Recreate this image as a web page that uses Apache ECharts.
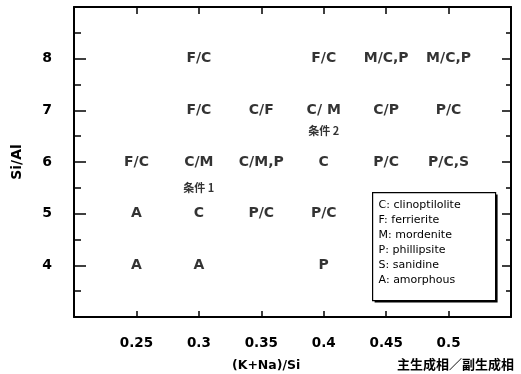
<!DOCTYPE html>
<html>
<head>
<meta charset="utf-8">
<script src="https://cdn.jsdelivr.net/npm/echarts@6/dist/echarts.min.js"></script>
<style>
  html, body { margin: 0; padding: 0; background: #fff; }
  #chart { width: 521px; height: 374px; }
</style>
</head>
<body>
<div id="chart"></div>
<script>
// (K+Na)/Si ratio, Si/Al ratio and the phases obtained (main / minor)
const ratioKNaSi = [
  0.25, 0.25, 0.25,
  0.3, 0.3, 0.3, 0.3, 0.3,
  0.35, 0.35, 0.35,
  0.4, 0.4, 0.4, 0.4, 0.4,
  0.45, 0.45, 0.45,
  0.5, 0.5, 0.5
];
const ratioSiAl = [
  6, 5, 4,
  8, 7, 6, 5, 4,
  7, 6, 5,
  8, 7, 6, 5, 4,
  8, 7, 6,
  8, 7, 6
];
const phases = [
  'F/C', 'A', 'A',
  'F/C', 'F/C', 'C/M', 'C', 'A',
  'C/F', 'C/M,P', 'P/C',
  'F/C', 'C/ M', 'C', 'P/C', 'P',
  'M/C,P', 'C/P', 'P/C',
  'M/C,P', 'P/C', 'P/C,S'
];

// condition markers
const condX = [0.3, 0.4];
const condY = [5.5, 6.6];
const condText = ['条件 1', '条件 2'];

// axis tick labels
const xTickLabels = ['0.25', '0.3', '0.35', '0.4', '0.45', '0.5'];
const yTickLabels = ['4', '5', '6', '7', '8'];

// phase abbreviations
const keyLines = [
  'C: clinoptilolite',
  'F: ferrierite',
  'M: mordenite',
  'P: phillipsite',
  'S: sanidine',
  'A: amorphous'
];

const FONT = 'DejaVu Sans';
const chart = echarts.init(document.getElementById('chart'), null, { renderer: 'canvas' });

function xFmt(v) {
  const s = String(Math.round(v * 100) / 100);
  return xTickLabels.indexOf(s) >= 0 ? s : '';
}
function yFmt(v) {
  const s = String(Math.round(v));
  return yTickLabels.indexOf(s) >= 0 ? s : '';
}

const axisLine = { show: true, onZero: false, lineStyle: { color: '#000', width: 2 } };

const keyChildren = [
  { type: 'rect', shape: { x: 2, y: 2, width: 123, height: 108 }, style: { fill: '#000' } },
  { type: 'rect', shape: { x: 0, y: 0, width: 123, height: 108 }, style: { fill: '#fff', stroke: '#000', lineWidth: 1.2 } }
].concat(keyLines.map((t, i) => ({
  type: 'text',
  x: 6, y: 13 + i * 15,
  style: { text: t, fill: '#000', font: '11px "' + FONT + '"', verticalAlign: 'middle' }
})));

chart.setOption({
  animation: false,
  backgroundColor: '#fff',
  grid: { left: 74, right: 10, top: 7, bottom: 57 },
  xAxis: [
    {
      type: 'value', min: 0.2, max: 0.55, interval: 0.05, position: 'bottom',
      axisLine: axisLine,
      axisTick: { show: true, inside: true, length: 6, lineStyle: { color: '#000', width: 1.5 } },
      axisLabel: { formatter: xFmt, margin: 19, color: '#000', fontSize: 13.5, fontWeight: 'bold', fontFamily: FONT },
      splitLine: { show: false }
    },
    {
      type: 'value', min: 0.2, max: 0.55, interval: 0.05, position: 'top',
      axisLine: axisLine,
      axisTick: { show: true, inside: true, length: 7, lineStyle: { color: '#000', width: 1.5 } },
      axisLabel: { show: false },
      splitLine: { show: false }
    }
  ],
  yAxis: [
    {
      type: 'value', min: 3, max: 9, interval: 1, position: 'left',
      name: 'Si/Al', nameLocation: 'middle', nameGap: 50, nameRotate: 90,
      nameTextStyle: { color: '#000', fontSize: 14, fontWeight: 'bold', fontFamily: FONT },
      axisLine: axisLine,
      axisTick: { show: true, inside: true, length: 12, lineStyle: { color: '#000', width: 1.5 } },
      minorTick: { show: true, splitNumber: 2, length: 7, lineStyle: { color: '#000', width: 1.5 } },
      axisLabel: { formatter: yFmt, margin: 22, color: '#000', fontSize: 14, fontWeight: 'bold', fontFamily: FONT },
      splitLine: { show: false },
      minorSplitLine: { show: false }
    },
    {
      type: 'value', min: 3, max: 9, interval: 1, position: 'right',
      axisLine: axisLine,
      axisTick: { show: true, inside: true, length: 9, lineStyle: { color: '#000', width: 1.5 } },
      minorTick: { show: true, splitNumber: 2, length: 5, lineStyle: { color: '#000', width: 1.5 } },
      axisLabel: { show: false },
      splitLine: { show: false },
      minorSplitLine: { show: false }
    }
  ],
  series: [
    {
      type: 'scatter',
      silent: true,
      symbolSize: 0,
      data: ratioKNaSi.map((x, i) => [x, ratioSiAl[i]]),
      label: {
        show: true, position: 'inside',
        formatter: p => phases[p.dataIndex],
        color: '#000', fontSize: 14, fontWeight: 'bold', fontFamily: FONT
      }
    },
    {
      type: 'scatter',
      silent: true,
      symbolSize: 0,
      data: condX.map((x, i) => [x, condY[i]]),
      label: {
        show: true, position: 'inside',
        formatter: p => condText[p.dataIndex],
        color: '#000', fontSize: 11, fontWeight: 'bold', fontFamily: '"Noto Sans CJK JP", ' + FONT
      }
    }
  ],
  graphic: [
    {
      type: 'text', left: 232, top: 359,
      style: { text: '(K+Na)/Si', fill: '#000', font: 'bold 12.5px "' + FONT + '"' }
    },
    {
      type: 'text', right: 7, top: 358,
      style: { text: '主生成相／副生成相', fill: '#000', font: 'bold 13px "Noto Sans CJK JP"' }
    },
    {
      type: 'group', left: 372, top: 192,
      children: keyChildren
    }
  ]
});
</script>
</body>
</html>
